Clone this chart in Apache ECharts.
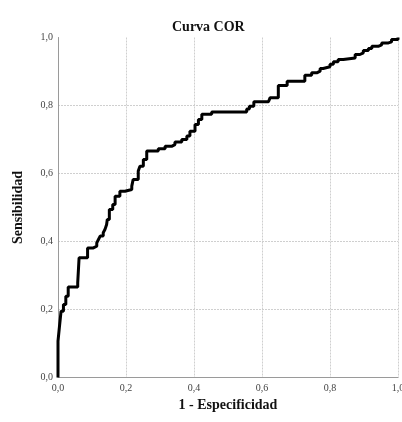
<!DOCTYPE html>
<html>
<head>
  <meta charset="utf-8" />
  <title>Curva COR</title>
  <script src="https://cdn.jsdelivr.net/npm/echarts@6/dist/echarts.min.js"></script>
  <style>
    html, body { margin: 0; padding: 0; background: #fff; }
    #chart { width: 402px; height: 422px; }
  </style>
</head>
<body>
  <div id="chart"></div>
  <script>
    // 1 - especificidad (x) y sensibilidad (y), esquinas de la curva escalonada
    const fpr = [0, 0, 0.004, 0.009, 0.016, 0.023, 0.03, 0.058, 0.062, 0.087,
      0.104, 0.114, 0.119, 0.124, 0.133, 0.138, 0.143, 0.145, 0.151, 0.161,
      0.168, 0.182, 0.197, 0.217, 0.221, 0.236, 0.241, 0.251, 0.261, 0.295,
      0.315, 0.334, 0.344, 0.364, 0.379, 0.388, 0.403, 0.413, 0.423, 0.452,
      0.555, 0.563, 0.576, 0.619, 0.624, 0.648, 0.674, 0.726, 0.746, 0.761,
      0.771, 0.78, 0.8, 0.81, 0.824, 0.839, 0.874, 0.888, 0.898, 0.913,
      0.923, 0.942, 0.952, 0.972, 0.981, 1.0];
    const tpr = [0, 0.107, 0.147, 0.195, 0.215, 0.239, 0.266, 0.279, 0.352, 0.381,
      0.386, 0.396, 0.406, 0.416, 0.426, 0.435, 0.45, 0.465, 0.494, 0.509,
      0.533, 0.548, 0.553, 0.563, 0.582, 0.607, 0.621, 0.641, 0.666, 0.673,
      0.68, 0.685, 0.693, 0.7, 0.71, 0.724, 0.744, 0.759, 0.774, 0.781,
      0.79, 0.798, 0.811, 0.816, 0.823, 0.859, 0.871, 0.889, 0.896, 0.901,
      0.909, 0.914, 0.921, 0.929, 0.935, 0.94, 0.95, 0.955, 0.962, 0.968,
      0.974, 0.978, 0.984, 0.987, 0.994, 1.0];

    const titleText = 'Curva COR';
    const xName = '1 - Especificidad';
    const yName = 'Sensibilidad';

    const serif = '"Liberation Serif", "DejaVu Serif", serif';
    const fmt = v => v.toFixed(1).replace('.', ',');

    const chart = echarts.init(document.getElementById('chart'));

    const axisCommon = {
      type: 'value',
      min: 0,
      max: 1,
      interval: 0.2,
      nameLocation: 'middle',
      nameTextStyle: { fontFamily: serif, fontWeight: 'bold', fontSize: 14, color: '#111' },
      axisLine: { show: true, lineStyle: { color: '#9a9a9a', width: 1 } },
      axisTick: { show: false },
      axisLabel: { formatter: fmt, fontFamily: serif, fontSize: 10, color: '#444' },
      splitLine: { show: true, lineStyle: { color: '#cfcfcf', type: [2, 1], width: 1 } }
    };

    chart.setOption({
      animation: false,
      title: {
        text: titleText,
        left: 167,
        top: 15,
        textStyle: { fontFamily: serif, fontWeight: 'bold', fontSize: 14, color: '#111' }
      },
      grid: { left: 58, top: 37.5, width: 340, height: 340, outerBoundsMode: 'none' },
      xAxis: Object.assign({}, axisCommon, {
        name: xName,
        nameGap: 19,
        axisLabel: Object.assign({}, axisCommon.axisLabel, { margin: 6 })
      }),
      yAxis: Object.assign({}, axisCommon, {
        name: yName,
        nameGap: 33,
        axisLabel: Object.assign({}, axisCommon.axisLabel, { margin: 5 }),
        splitLine: Object.assign({}, axisCommon.splitLine, { showMaxLine: false })
      }),
      series: [{
        type: 'line',
        step: 'end',
        showSymbol: false,
        data: fpr.map((x, i) => [x, tpr[i]]),
        lineStyle: { color: '#000', width: 3 }
      }]
    });
  </script>
</body>
</html>
